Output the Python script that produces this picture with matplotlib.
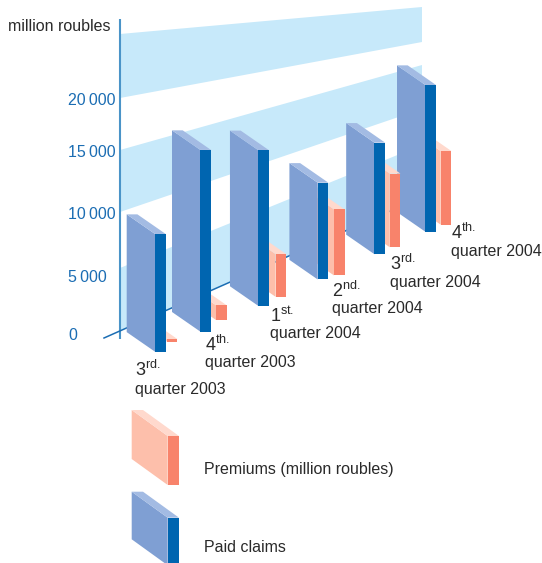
#!/usr/bin/env python3

"""Premiums and paid claims by quarter, drawn as a pseudo-3D bar chart."""

import matplotlib.pyplot as plt
import numpy as np

plt.rcParams["font.family"] = ["Liberation Sans", "DejaVu Sans"]
plt.rcParams["mathtext.fontset"] = "custom"
plt.rcParams["mathtext.rm"] = "Liberation Sans"

# data, in million roubles
ordinals = ["3^{rd.}", "4^{th.}", "1^{st.}", "2^{nd.}", "3^{rd.}", "4^{th.}"]
quarters = ["quarter 2003", "quarter 2003", "quarter 2004", "quarter 2004", "quarter 2004", "quarter 2004"]
claims = [10150, 15660, 13420, 8340, 9620, 12650]
premiums = [230, 1270, 3680, 5690, 6350, 6350]
tick_labels = ["0", "5\u2009000", "10\u2009000", "15\u2009000", "20\u2009000"]
band_ranges = [(0, 5000), (10000, 15000), (20000, 25000)]

# layout: floor position of each group and the offset of its premium bar
slots = [0, 0.838, 1.91, 3.01, 4.06, 5.0]
prem_dx = [11.7, 15.7, 17.4, 16.3, 15.3, 15.4]
prem_dy = [-10, -11.6, -9, -4, -7, -7]
label_x = [135, 205, 270, 332, 390, 450.7]
label_y = [376, 350.7, 321.7, 297.3, 270, 239]
label_gap = [18, 16.5, 16.5, 16, 16.7, 17]
tick_y = [340, 282, 219, 157, 105]

# wall perspective: pixel height of each value at both ends of the wall
wall_values = [0, 5000, 10000, 15000, 20000, 25000]
wall_left = [331, 268, 212, 150, 98, 34]
wall_right = [197, 145, 109, 65, 42, 7]
wall_x = (120, 422)

PX_PER_UNIT = 58 / 5000
TEXT = "#2a2a2a"
BLUE = "#1b6db3"
BAND = "#c7e9fa"
CLAIM_COLORS = ("#7f9fd3", "#a3bbe3", "#0065b0")
PREM_COLORS = ("#fdbfab", "#ffd9cd", "#f8836b")
FS = 11.5


def prism(ax, x, y, height, colors, width=10.7, dx=28.3, dy=19.6):
    """Draw a box from its front bottom-left corner."""
    side, top, front = colors
    yt = y - height
    ax.fill([x - dx, x, x, x - dx], [yt - dy, yt, y, y - dy], color=side, lw=0, zorder=3)
    ax.fill([x - dx, x - dx + width, x + width, x], [yt - dy, yt - dy, yt, yt], color=top, lw=0, zorder=3)
    ax.fill([x, x + width, x + width, x], [yt, yt, y, y], color=front, lw=0, zorder=3)


fig = plt.figure(figsize=(5.42, 5.63), dpi=100)
ax = fig.add_axes([0, 0, 1, 1])
ax.set_xlim(0, 542)
ax.set_ylim(563, 0)
ax.axis("off")

# bands on the back wall
for low, high in band_ranges:
    lo_l, lo_r = np.interp(low, wall_values, wall_left), np.interp(low, wall_values, wall_right)
    hi_l, hi_r = np.interp(high, wall_values, wall_left), np.interp(high, wall_values, wall_right)
    ax.fill([wall_x[0], wall_x[1], wall_x[1], wall_x[0]], [lo_l, lo_r, hi_r, hi_l], color=BAND, lw=0, zorder=1)

# axes
ax.plot([120, 120], [19, 339], color="#4a94c8", lw=1.5, zorder=2, solid_capstyle="butt")
ax.plot([104, 397], [338, 208], color=BLUE, lw=1.1, zorder=2)

# bars, back to front
for i in reversed(range(len(slots))):
    fx = 155 + slots[i] * 54.06
    fy = 351.7 - slots[i] * 24.0
    prism(ax, fx + prem_dx[i], fy + prem_dy[i], premiums[i] * PX_PER_UNIT, PREM_COLORS)
    prism(ax, fx, fy, claims[i] * PX_PER_UNIT, CLAIM_COLORS)

# texts
for x, y, gap, o, q in zip(label_x, label_y, label_gap, ordinals, quarters):
    ax.text(x, y, "$\\mathrm{" + o + "}$", fontsize=13, color=TEXT, va="baseline", zorder=5)
    ax.text(x, y + gap, q, fontsize=FS, color=TEXT, va="baseline", zorder=5)

for y, lab in zip(tick_y, tick_labels):
    ax.text(68, y, lab, fontsize=FS, color=BLUE, va="baseline", zorder=5)

ax.text(8, 31, "million roubles", fontsize=FS, color=TEXT, va="baseline")

# legend
prism(ax, 167.7, 485, 49, PREM_COLORS, width=11.3, dx=36, dy=26)
prism(ax, 167.7, 565.3, 47.6, CLAIM_COLORS, width=11.3, dx=36, dy=26)
ax.text(204, 474, "Premiums (million roubles)", fontsize=FS, color=TEXT, va="baseline")
ax.text(204, 551.7, "Paid claims", fontsize=FS, color=TEXT, va="baseline")

plt.savefig("out.png", dpi=100)
